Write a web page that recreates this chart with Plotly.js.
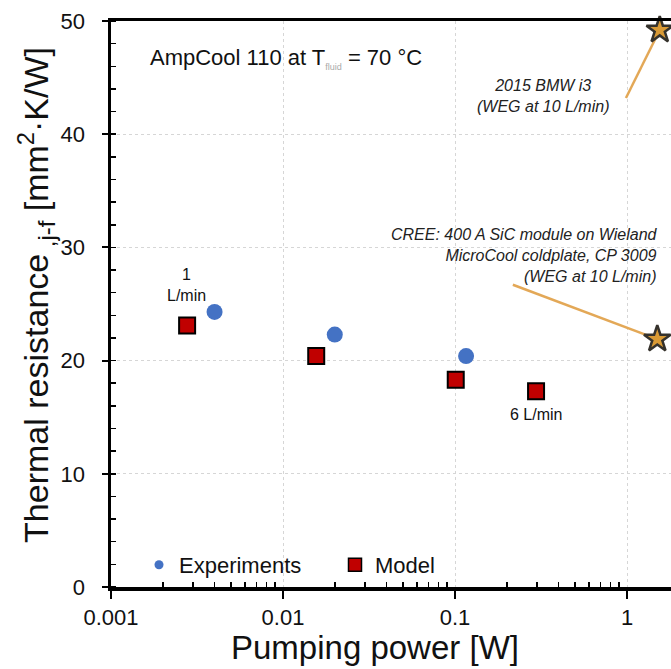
<!DOCTYPE html>
<html>
<head>
<meta charset="utf-8">
<script src="https://cdn.plot.ly/plotly-3.0.1.min.js"></script>
<style>html,body{margin:0;padding:0;background:#fff;}#chart{width:671px;height:669px;}</style>
</head>
<body>
<div id="chart"></div>
<script>
// ---- data ----
const expX = [0.0040, 0.0200, 0.116];
const expY = [24.3, 22.3, 20.4];
const modelX = [0.00277, 0.0156, 0.101, 0.296];
const modelY = [23.1, 20.4, 18.3, 17.3];
const refLabels = ['2015 BMW i3<br>(WEG at 10 L/min)',
                   'CREE: 400 A SiC module on Wieland<br>MicroCool coldplate, CP 3009<br>(WEG at 10 L/min)'];
const refX = [1.55, 1.5];
const refY = [49.2, 21.9];
const calloutX = [0.986, 0.217];
const calloutY = [43.2, 26.7];
const xTickVals = [0.001, 0.01, 0.1, 1];
const xTickText = ['0.001', '0.01', '0.1', '1'];
const xMinorVals = [];
[0.001, 0.01, 0.1, 1].forEach(d => { for (let k = 2; k <= 9; k++) xMinorVals.push(d * k); });
const yTickVals = [0, 10, 20, 30, 40, 50];
const flowLabels = ['1<br>L/min', '6 L/min'];
const seriesNames = ['Experiments', 'Model'];
const xTitle = 'Pumping power [W]';
const yTitle = 'Thermal resistance<sub> ,j-f</sub> [mm<sup>2</sup>·K/W]';

const FONT = 'Liberation Sans, Arial, sans-serif';
const lg = v => Math.log10(v);

const traces = [];
// callout lines
for (let i = 0; i < refX.length; i++) {
  traces.push({x: [calloutX[i], refX[i]], y: [calloutY[i], refY[i]], mode: 'lines',
    line: {color: '#e3a857', width: 2.5}, showlegend: false, hoverinfo: 'skip', cliponaxis: false});
}
traces.push({x: refX, y: refY, mode: 'markers', showlegend: false, cliponaxis: false,
  marker: {symbol: 'star', size: 20, color: '#d99a35', line: {color: '#35322c', width: 2.5}}});
traces.push({x: expX, y: expY, mode: 'markers', name: seriesNames[0], showlegend: false,
  marker: {symbol: 'circle', size: 16, color: '#4472c4'}});
traces.push({x: modelX, y: modelY, mode: 'markers', name: seriesNames[1], showlegend: false,
  marker: {symbol: 'square', size: 16, color: '#c00000', line: {color: '#000', width: 2}}});
// legend entries (no marks drawn)
traces.push({x: [null], y: [null], mode: 'markers', name: seriesNames[0], showlegend: true,
  marker: {symbol: 'circle', size: 9, color: '#4472c4'}});
traces.push({x: [null], y: [null], mode: 'markers', name: seriesNames[1], showlegend: true,
  marker: {symbol: 'square', size: 13, color: '#c00000', line: {color: '#000', width: 1.5}}});

const annotations = [
  {xref: 'paper', yref: 'paper', x: 0.066, y: 0.933, xanchor: 'left', yanchor: 'middle', showarrow: false,
   text: 'AmpCool 110 at T<sub><span style="font-size:9px;fill:#aaa">fluid</span></sub> = 70 °C',
   font: {family: FONT, size: 22, color: '#111'}},
  {x: -0.488, y: 43.4, xanchor: 'center', yanchor: 'middle', showarrow: false, align: 'center',
   text: '<i>' + refLabels[0].replace('<br>', '</i><br><i>') + '</i>', font: {family: FONT, size: 16, color: '#222'}},
  {x: 0.192, y: 29.3, xanchor: 'right', yanchor: 'middle', showarrow: false, align: 'right',
   text: '<i>' + refLabels[1].split('<br>').join('</i><br><i>') + '</i>', font: {family: FONT, size: 16, color: '#222'}},
  {x: lg(modelX[0]) - 0.006, y: 26.7, xanchor: 'center', yanchor: 'middle', showarrow: false, align: 'center',
   text: flowLabels[0], font: {family: FONT, size: 16, color: '#111'}},
  {x: lg(modelX[3]), y: 15.2, xanchor: 'center', yanchor: 'middle', showarrow: false,
   text: flowLabels[1], font: {family: FONT, size: 16, color: '#111'}},
  {xref: 'paper', yref: 'paper', x: 0.471, y: -0.107, xanchor: 'center', yanchor: 'middle', showarrow: false,
   text: xTitle, font: {family: FONT, size: 33, color: '#111'}},
  {xref: 'paper', yref: 'paper', x: -0.134, y: 0.516, xanchor: 'center', yanchor: 'middle', showarrow: false,
   textangle: -90, text: yTitle, font: {family: FONT, size: 34, color: '#111'}}
];

const layout = {
  width: 671, height: 669,
  margin: {l: 111, r: 0, t: 21, b: 82, pad: 0},
  paper_bgcolor: '#fff', plot_bgcolor: '#fff',
  font: {family: FONT, color: '#111'},
  showlegend: true,
  legend: {orientation: 'h', x: 0.05, y: 0.039, xanchor: 'left', yanchor: 'middle',
    bgcolor: 'rgba(0,0,0,0)', font: {family: FONT, size: 22, color: '#111'},
    itemsizing: 'trace', entrywidth: 151},
  xaxis: {type: 'log', range: [-3, 0.2558], autorange: false,
    tickmode: 'array', tickvals: xTickVals, ticktext: xTickText,
    showline: true, linecolor: '#000', linewidth: 3.5, mirror: true,
    ticks: 'outside', ticklen: 8, tickwidth: 2, tickcolor: '#000',
    tickfont: {family: FONT, size: 22, color: '#111'},
    showgrid: true, gridcolor: '#d6d6d6', gridwidth: 1, griddash: 'dot',
    minor: {tickmode: 'array', tickvals: xMinorVals, ticks: 'inside', ticklen: 5, tickwidth: 1.5, tickcolor: '#000', showgrid: false},
    zeroline: false},
  yaxis: {range: [0, 50], autorange: false,
    tickmode: 'array', tickvals: yTickVals,
    showline: true, linecolor: '#000', linewidth: 3.5, mirror: false,
    ticks: 'outside', ticklen: 6, tickwidth: 2, tickcolor: '#000', ticklabelstandoff: 12,
    tickfont: {family: FONT, size: 22, color: '#111'},
    showgrid: true, gridcolor: '#d6d6d6', gridwidth: 1, griddash: 'dot',
    minor: {dtick: 2, ticks: 'inside', ticklen: 5, tickwidth: 1.5, tickcolor: '#000', showgrid: false},
    zeroline: false},
  annotations: annotations
};

Plotly.newPlot('chart', traces, layout, {displayModeBar: false, staticPlot: true});
</script>
</body>
</html>
